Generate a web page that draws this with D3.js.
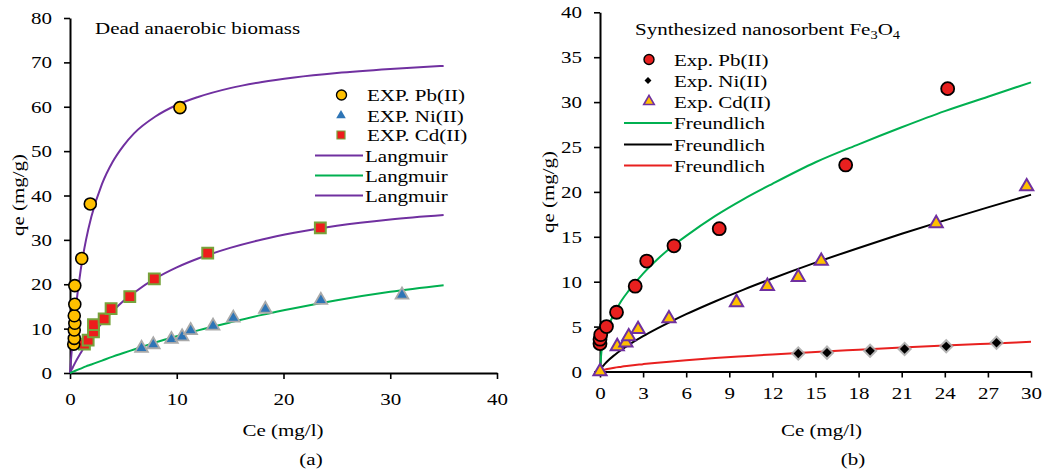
<!DOCTYPE html>
<html>
<head>
<meta charset="utf-8">
<script src="https://cdn.jsdelivr.net/npm/d3@7"></script>
<style>
  html, body { margin: 0; padding: 0; background: #fff; }
  svg { display: block; }
  text { font-family: "Liberation Serif", "Times New Roman", serif; fill: #000; }
</style>
</head>
<body>
<svg id="chart" width="1043" height="473"></svg>
<script>
// ---------- Panel (a): dead anaerobic biomass ----------
const biomassXTicks = [0, 10, 20, 30, 40];
const biomassYTicks = [0, 10, 20, 30, 40, 50, 60, 70, 80];

// experimental points [Ce, qe]
const biomassPb = [[0.35, 6.5], [0.4, 7.8], [0.4, 9.7], [0.45, 11.2], [0.4, 12.9], [0.45, 15.5],
                   [0.45, 19.7], [1.1, 25.8], [1.9, 38.1], [10.3, 59.8]];
const biomassNi = [[6.7, 5.6], [7.8, 6.4], [9.5, 7.6], [10.5, 8.2], [11.3, 9.6], [13.4, 10.6],
                   [15.3, 12.4], [18.3, 14.4], [23.5, 16.4], [31.1, 17.6]];
const biomassCd = [[1.35, 6.5], [1.7, 7.4], [2.2, 9.3], [2.2, 10.9], [3.2, 12.2], [3.85, 14.5],
                   [5.6, 17.2], [7.9, 21.2], [12.9, 27.0], [23.45, 32.7]];

// Langmuir model lines, sampled on a common Ce grid
const biomassCeGrid   = [0, 0.1, 0.25, 0.5, 1, 1.5, 2, 3, 4, 5, 6, 8, 10, 12, 15, 18, 21, 25, 30, 35];
const biomassLangPb   = [0, 3.2, 7.6, 13.7, 23.2, 30.0, 35.2, 42.6, 47.6, 51.2, 54.0, 57.8, 60.4, 62.2, 64.2, 65.6, 66.6, 67.6, 68.5, 69.2];
const biomassLangNi   = [0, 0.1, 0.25, 0.5, 1.0, 1.5, 1.9, 2.8, 3.7, 4.5, 5.3, 6.9, 8.3, 9.6, 11.4, 13.1, 14.6, 16.4, 18.3, 19.8];
const biomassLangCd   = [0, 0.5, 1.2, 2.4, 4.5, 6.5, 8.2, 11.3, 13.9, 16.2, 18.1, 21.3, 23.8, 25.8, 28.2, 30.1, 31.6, 33.2, 34.6, 35.6];

// ---------- Panel (b): synthesized nanosorbent Fe3O4 ----------
const nanoXTicks = [0, 3, 6, 9, 12, 15, 18, 21, 24, 27, 30];
const nanoYTicks = [0, 5, 10, 15, 20, 25, 30, 35, 40];

const nanoPb = [[0, 3.1], [0, 3.6], [0.05, 4.1], [0.45, 5.0], [1.15, 6.6], [2.45, 9.5], [3.25, 12.3],
                [5.15, 14.0], [8.3, 15.9], [17.1, 23.0], [24.2, 31.5]];
const nanoNi = [[13.8, 2.0], [15.8, 2.1], [18.8, 2.3], [21.2, 2.5], [24.1, 2.8], [27.6, 3.2]];
const nanoCd = [[0, 0], [1.2, 2.8], [1.8, 3.2], [2.0, 3.9], [2.65, 4.7], [4.8, 5.9], [9.5, 7.7],
                [11.65, 9.5], [13.8, 10.5], [15.4, 12.3], [23.4, 16.5], [29.7, 20.6]];

// Freundlich model lines, sampled on a common Ce grid
const nanoCeGrid     = [0, 0.1, 0.25, 0.5, 1, 1.5, 2, 3, 4, 5, 6, 8, 10, 12, 15, 18, 21, 24, 27, 30];
const nanoFreundPb   = [0, 2.2, 3.4, 4.7, 6.5, 7.9, 9.0, 10.9, 12.5, 13.9, 15.1, 17.3, 19.2, 20.9, 23.3, 25.3, 27.2, 29.0, 30.6, 32.2];
const nanoFreundCd   = [0, 0.36, 0.69, 1.12, 1.82, 2.42, 2.96, 3.93, 4.80, 5.61, 6.38, 7.80, 9.12, 10.36, 12.12, 13.76, 15.34, 16.83, 18.28, 19.68];
const nanoFreundNi   = [0, 0.11, 0.18, 0.28, 0.43, 0.54, 0.65, 0.82, 0.98, 1.12, 1.25, 1.49, 1.70, 1.90, 2.18, 2.43, 2.67, 2.89, 3.10, 3.30];

// ---------- styling ----------
const FONT = 17.5;     // font size for all labels
const SX = 1.2;        // horizontal stretch of lettering
const PURPLE = "#7030A0", GREEN = "#00B050", RED_LINE = "#E8201F";

const svg = d3.select("#chart");

// place a text with horizontally widened glyphs
function label(g, str, x, y, anchor = "start") {
  return g.append("text")
    .attr("transform", `translate(${x},${y}) scale(${SX},1)`)
    .attr("text-anchor", anchor)
    .style("font-size", FONT + "px")
    .text(str);
}
// widen tick labels produced by d3.axis
function stretchTicks(axisG) {
  axisG.selectAll(".tick text").each(function () {
    const t = d3.select(this);
    const x = +t.attr("x") || 0, y = +t.attr("y") || 0;
    t.attr("x", 0).attr("y", 0)
     .attr("transform", `translate(${x},${y}) scale(${SX},1)`)
     .style("font-size", FONT + "px")
     .attr("font-family", null);
  });
}
function styleAxis(axisG) {
  axisG.select(".domain").attr("stroke", "#000").attr("stroke-width", 2);
  axisG.selectAll(".tick line").attr("stroke", "#000").attr("stroke-width", 1.6);
}
const zipGrid = (grid, vals) => grid.map((c, i) => [c, vals[i]]);

function drawLine(g, x, y, pts, color) {
  g.append("path")
    .datum(pts)
    .attr("fill", "none")
    .attr("stroke", color)
    .attr("stroke-width", 2)
    .attr("d", d3.line().x(d => x(d[0])).y(d => y(d[1])).curve(d3.curveMonotoneX));
}

// ================= Panel (a) =================
{
  const x = d3.scaleLinear([0, 40], [70, 497]);
  const y = d3.scaleLinear([0, 80], [373, 18]);
  const g = svg.append("g");

  const xa = g.append("g").attr("transform", `translate(0,${y(0)})`)
    .call(d3.axisBottom(x).tickValues(biomassXTicks).tickSize(6).tickSizeOuter(0).tickPadding(14));
  const ya = g.append("g").attr("transform", `translate(${x(0)},0)`)
    .call(d3.axisLeft(y).tickValues(biomassYTicks).tickSize(6).tickSizeOuter(0).tickPadding(12));
  [xa, ya].forEach(a => { styleAxis(a); stretchTicks(a); });

  drawLine(g, x, y, zipGrid(biomassCeGrid, biomassLangPb), PURPLE);
  drawLine(g, x, y, zipGrid(biomassCeGrid, biomassLangCd), PURPLE);
  drawLine(g, x, y, zipGrid(biomassCeGrid, biomassLangNi), GREEN);

  g.selectAll("path.ni").data(biomassNi).join("path").attr("class", "ni")
    .attr("transform", d => `translate(${x(d[0])},${y(d[1])})`)
    .attr("d", d3.symbol(d3.symbolTriangle, 70))
    .attr("fill", "#2E75B6").attr("stroke", "#A9A9A9").attr("stroke-width", 1.8);
  g.selectAll("path.cd").data(biomassCd).join("path").attr("class", "cd")
    .attr("transform", d => `translate(${x(d[0])},${y(d[1])})`)
    .attr("d", d3.symbol(d3.symbolSquare, 118))
    .attr("fill", "#EE1C1C").attr("stroke", "#77A33B").attr("stroke-width", 2);
  g.selectAll("circle.pb").data(biomassPb).join("circle").attr("class", "pb")
    .attr("cx", d => x(d[0])).attr("cy", d => y(d[1])).attr("r", 6)
    .attr("fill", "#FFC000").attr("stroke", "#000").attr("stroke-width", 1.6);

  label(g, "Dead anaerobic biomass", 95, 34);
  label(g, "Ce (mg/l)", 283, 436, "middle");
  label(g, "(a)", 311, 465, "middle");
  g.append("text")
    .attr("transform", `translate(24,195) rotate(-90) scale(${SX},1)`)
    .attr("text-anchor", "middle").style("font-size", FONT + "px").text("qe (mg/g)");

  // legend
  const lg = g.append("g");
  const rows = [95, 115.5, 135, 155.5, 175.5, 195.5];
  lg.append("circle").attr("cx", 341.5).attr("cy", rows[0]).attr("r", 5)
    .attr("fill", "#FFC000").attr("stroke", "#000").attr("stroke-width", 1.4);
  lg.append("path").attr("transform", `translate(341,${rows[1]})`)
    .attr("d", d3.symbol(d3.symbolTriangle, 40)).attr("fill", "#2E75B6");
  lg.append("path").attr("transform", `translate(341,${rows[2]})`)
    .attr("d", d3.symbol(d3.symbolSquare, 64)).attr("fill", "#EE1C1C")
    .attr("stroke", "#77A33B").attr("stroke-width", 1.2);
  [PURPLE, GREEN, PURPLE].forEach((c, i) => {
    lg.append("line").attr("x1", 315).attr("x2", 363)
      .attr("y1", rows[3 + i]).attr("y2", rows[3 + i])
      .attr("stroke", c).attr("stroke-width", 2);
  });
  ["EXP. Pb(II)", "EXP. Ni(II)", "EXP. Cd(II)", "Langmuir", "Langmuir", "Langmuir"]
    .forEach((s, i) => label(lg, s, i < 3 ? 367 : 365, rows[i] + 6));
}

// ================= Panel (b) =================
{
  const x = d3.scaleLinear([0, 30], [600, 1031]);
  const y = d3.scaleLinear([0, 40], [371.5, 12.3]);
  const g = svg.append("g");

  const xa = g.append("g").attr("transform", `translate(0,${y(0)})`)
    .call(d3.axisBottom(x).tickValues(nanoXTicks).tickSize(6).tickSizeOuter(0).tickPadding(9));
  const ya = g.append("g").attr("transform", `translate(${x(0)},0)`)
    .call(d3.axisLeft(y).tickValues(nanoYTicks).tickSize(6).tickSizeOuter(0).tickPadding(12));
  [xa, ya].forEach(a => { styleAxis(a); stretchTicks(a); });

  drawLine(g, x, y, zipGrid(nanoCeGrid, nanoFreundPb), GREEN);
  drawLine(g, x, y, zipGrid(nanoCeGrid, nanoFreundCd), "#000");
  drawLine(g, x, y, zipGrid(nanoCeGrid, nanoFreundNi), RED_LINE);

  g.selectAll("circle.pb").data(nanoPb).join("circle").attr("class", "pb")
    .attr("cx", d => x(d[0])).attr("cy", d => y(d[1])).attr("r", 6.5)
    .attr("fill", "#E8201F").attr("stroke", "#000").attr("stroke-width", 1.8);
  g.selectAll("path.ni").data(nanoNi).join("path").attr("class", "ni")
    .attr("transform", d => `translate(${x(d[0])},${y(d[1])}) rotate(45)`)
    .attr("d", d3.symbol(d3.symbolSquare, 44))
    .attr("fill", "#000").attr("stroke", "#A8A8A8").attr("stroke-width", 4)
    .attr("stroke-opacity", 0.85).attr("paint-order", "stroke");
  g.selectAll("path.cd").data(nanoCd).join("path").attr("class", "cd")
    .attr("transform", d => `translate(${x(d[0])},${y(d[1])})`)
    .attr("d", d3.symbol(d3.symbolTriangle, 75))
    .attr("fill", "#FFC000").attr("stroke", "#7030A0").attr("stroke-width", 2);

  // title with subscripts
  const t = g.append("text")
    .attr("transform", `translate(635,35) scale(${SX},1)`)
    .style("font-size", FONT + "px");
  t.append("tspan").text("Synthesized nanosorbent Fe");
  t.append("tspan").attr("dy", 4).style("font-size", "12px").text("3");
  t.append("tspan").attr("dy", -4).text("O");
  t.append("tspan").attr("dy", 4).style("font-size", "12px").text("4");

  label(g, "Ce (mg/l)", 821.5, 436, "middle");
  label(g, "(b)", 853, 465, "middle");
  g.append("text")
    .attr("transform", `translate(554,192) rotate(-90) scale(${SX},1)`)
    .attr("text-anchor", "middle").style("font-size", FONT + "px").text("qe (mg/g)");

  // legend
  const lg = g.append("g");
  const rows = [59.5, 80.5, 101.5, 123, 144.5, 165.5];
  lg.append("circle").attr("cx", 649).attr("cy", rows[0]).attr("r", 5)
    .attr("fill", "#E8201F").attr("stroke", "#000").attr("stroke-width", 1.4);
  lg.append("path").attr("transform", `translate(648,${rows[1]}) rotate(45)`)
    .attr("d", d3.symbol(d3.symbolSquare, 24)).attr("fill", "#000");
  lg.append("path").attr("transform", `translate(649,${rows[2]})`)
    .attr("d", d3.symbol(d3.symbolTriangle, 48)).attr("fill", "#FFC000")
    .attr("stroke", "#7030A0").attr("stroke-width", 1.6);
  [GREEN, "#000", RED_LINE].forEach((c, i) => {
    lg.append("line").attr("x1", 624).attr("x2", 672)
      .attr("y1", rows[3 + i]).attr("y2", rows[3 + i])
      .attr("stroke", c).attr("stroke-width", 2);
  });
  ["Exp. Pb(II)", "Exp. Ni(II)", "Exp. Cd(II)", "Freundlich", "Freundlich", "Freundlich"]
    .forEach((s, i) => label(lg, s, 674, rows[i] + 6));
}
</script>
</body>
</html>
